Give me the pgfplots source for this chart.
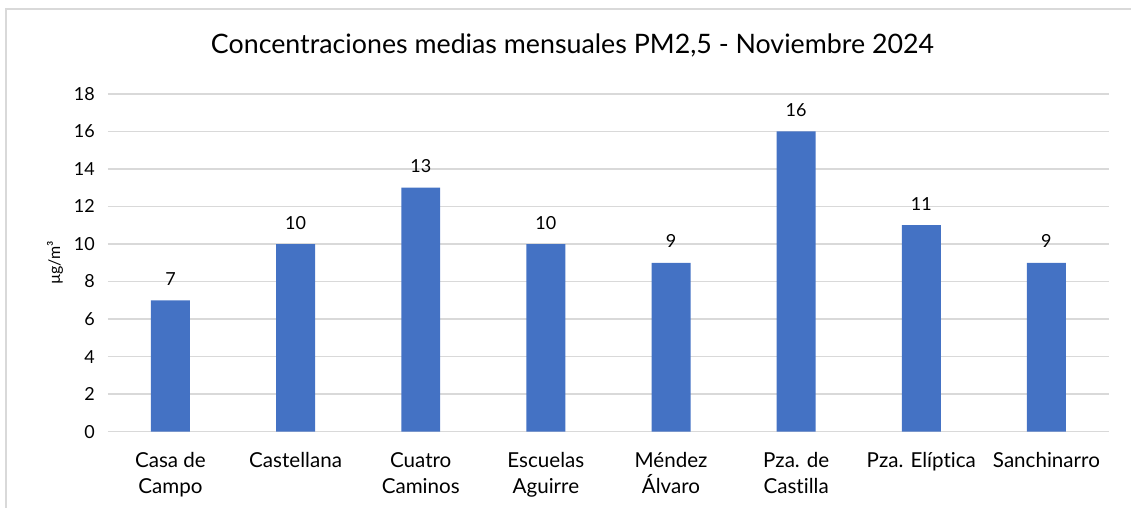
\documentclass[border=0pt]{standalone}
\usepackage{fontspec}
\setmainfont{Lato}[Ligatures={NoCommon}]
\usepackage{pgfplots}
\pgfplotsset{compat=1.18}
\definecolor{barblue}{HTML}{4472C4}
\definecolor{gridgray}{HTML}{D9D9D9}
\definecolor{framegray}{HTML}{D9D9D9}
\begin{document}
\begin{tikzpicture}
% canvas: 1px of the reference = 0.5pt
\path (0,0) rectangle (566pt,254pt);
\draw[framegray, line width=1pt] (3pt,0) -- (3pt,249.5pt) -- (566pt,249.5pt);
\node[font=\fontsize{13.4}{15}\selectfont] at (286.5pt,231.5pt) {Concentraciones medias mensuales PM2,5 - Noviembre 2024};
\begin{axis}[
    at={(54pt,38pt)}, anchor=south west,
    scale only axis,
    width=501pt, height=169pt,
    xmin=-0.5, xmax=7.5,
    ymin=0, ymax=18,
    ytick={0,2,...,18},
    xtick=data,
    xticklabels={Casa de\\Campo, Castellana, Cuatro\\Caminos, Escuelas\\Aguirre, Méndez\\Álvaro, Pza. de\\Castilla, Pza. Elíptica, Sanchinarro},
    xticklabel style={align=center, font=\fontsize{10.3}{13}\selectfont, yshift=-7pt},
    yticklabel style={font=\fontsize{9}{10}\selectfont, xshift=-3pt},
    /pgf/number format/assume math mode=true,
    major tick length=0pt,
    axis line style={draw=none},
    ymajorgrids,
    grid style={gridgray, line width=0.8pt},
    every axis y label/.style={at={(axis description cs:0,0.5)}, xshift=-26.5pt, rotate=90, anchor=center},
    ylabel={\fontsize{8}{9}\selectfont µg/m³},
    ybar, bar width=19.5pt,
    nodes near coords,
    every node near coord/.append style={font=\fontsize{9}{10}\selectfont, anchor=base, yshift=7.5pt, inner sep=0pt},
    clip=false,
]
\addplot[fill=barblue, draw=none] coordinates {
    (0,7) (1,10) (2,13) (3,10) (4,9) (5,16) (6,11) (7,9)
};
\end{axis}
\end{tikzpicture}
\end{document}
